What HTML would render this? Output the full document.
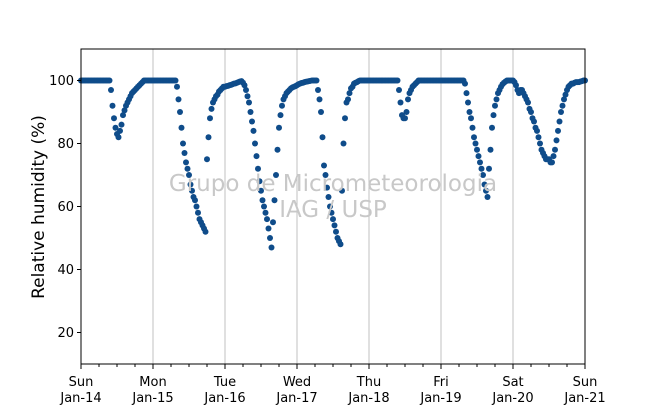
<!DOCTYPE html>
<html><head><meta charset="utf-8"><style>
html,body{margin:0;padding:0;background:#fff;}
svg text{font-family:"DejaVu Sans","Liberation Sans",sans-serif;}
</style></head><body>
<svg id="chart" width="650" height="409" viewBox="0 0 650 409" xmlns="http://www.w3.org/2000/svg">
<rect width="650" height="409" fill="#fff"/>
<g id="grid"></g>
<g id="dots"></g>
<text x="333" y="191" font-size="23" fill="#c8c8c8" text-anchor="middle">Grupo de Micrometeorologia</text>
<text x="333" y="217" font-size="23" fill="#c8c8c8" text-anchor="middle">IAG / USP</text>
<rect x="81" y="49" width="504" height="315" fill="none" stroke="#000" stroke-width="1"/>
<g id="axes"></g>
<text transform="translate(44,207) rotate(-90)" font-size="17" text-anchor="middle">Relative humidity (%)</text>
</svg>
<script>
const dayNames = ["Sun","Mon","Tue","Wed","Thu","Fri","Sat","Sun"];
const dayDates = ["Jan-14","Jan-15","Jan-16","Jan-17","Jan-18","Jan-19","Jan-20","Jan-21"];
const yTicks = [20,40,60,80,100];
// half-hourly relative humidity (%), starting Jan-14 00:00
const humidity = [
100,100,100,100,100,100,100,100,100,100,100,100,100,100,100,100,100,100,100,100,97,92,88,85,
83,82,84,86,89,90.5,92,93,94,95,96,96.5,97,97.5,98,98.5,99,99.5,100,100,100,100,100,100,
100,100,100,100,100,100,100,100,100,100,100,100,100,100,100,100,98,94,90,85,80,77,74,72,
70,67,65,63,62,60,58,56,55,54,53,52,75,82,88,91,93,94,95,95.5,96.5,97,97.5,98,
98,98.2,98.3,98.5,98.6,98.8,99,99.1,99.3,99.5,99.7,99.8,99.3,98.5,97,95,93,90,87,84,80,76,72,68,
65,62,60,58,56,53,50,47,55,62,70,78,85,89,92,94,95,96,96.5,97,97.5,97.8,98,98.2,
98.5,98.8,99,99.2,99.3,99.5,99.6,99.7,99.8,99.9,100,100,100,100,97,94,90,82,73,70,66,63,60,58,
56,54,52,50,49,48,65,80,88,93,94,96,97.5,98,99,99.3,99.5,99.8,100,100,100,100,100,100,
100,100,100,100,100,100,100,100,100,100,100,100,100,100,100,100,100,100,100,100,97,93,89,88,
88,90,94,96,97,98,98.5,99,99.5,100,100,100,100,100,100,100,100,100,100,100,100,100,100,100,
100,100,100,100,100,100,100,100,100,100,100,100,100,100,100,100,99,96,93,90,88,85,82,80,
78,76,74,72,70,67,65,63,72,78,85,89,92,94,96,97,98,98.8,99.3,99.7,100,100,100,100,
100,99.5,98.5,97,96,97,97,96,95,94,93,91,90,88,87,85,84,82,80,78,77,76,75,75,
75,74,74,76,78,81,84,87,90,92,94,95.5,97,98,98.5,99,99,99.3,99.5,99.5,99.5,99.7,99.8,100,
100
];
const NS="http://www.w3.org/2000/svg";
const X0=81,X1=585,Y0=364,Y1=49,HMAX=168,VMIN=10,VMAX=110,STEP=0.5;
function xs(h){return X0+(h/HMAX)*(X1-X0);}
function ys(v){return Y0-(v-VMIN)/(VMAX-VMIN)*(Y0-Y1);}
function mk(tag,attrs,parent){const e=document.createElementNS(NS,tag);for(const k in attrs)e.setAttribute(k,attrs[k]);parent.appendChild(e);return e;}
const grid=document.getElementById('grid'),axes=document.getElementById('axes'),dots=document.getElementById('dots');
for(let d=1;d<dayNames.length-1;d++){
  const l=mk('line',{x1:xs(d*24),x2:xs(d*24),y1:Y1,y2:Y0,stroke:'#c0c0c0','stroke-width':1},grid);
  
  
}
for(let h=0;h<=HMAX;h+=6){
  const major=h%24===0;
  const t=mk('line',{x1:xs(h),x2:xs(h),y1:Y0,y2:Y0+(major?5:3),stroke:'#000','stroke-width':1},axes);
  
  
}
dayNames.forEach((n,i)=>{
  const t=mk('text',{x:xs(i*24),y:386,'font-size':13,'text-anchor':'middle'},axes);
  t.textContent=n;
  
  
  const t2=mk('text',{x:xs(i*24),y:402,'font-size':13,'text-anchor':'middle'},axes);
  t2.textContent=dayDates[i];
  
  
});
yTicks.forEach(v=>{
  const t=mk('line',{x1:X0-4,x2:X0,y1:ys(v),y2:ys(v),stroke:'#000','stroke-width':1},axes);
  
  
  const l=mk('text',{x:X0-7,y:ys(v)+4.5,'font-size':13,'text-anchor':'end'},axes);
  l.textContent=v;
  
  
});
humidity.forEach((v,i)=>{
  const c=mk('circle',{cx:xs(i*STEP),cy:ys(v),r:3,fill:'#0f4c8a'},dots);
  
  
});
</script>
</body></html>
